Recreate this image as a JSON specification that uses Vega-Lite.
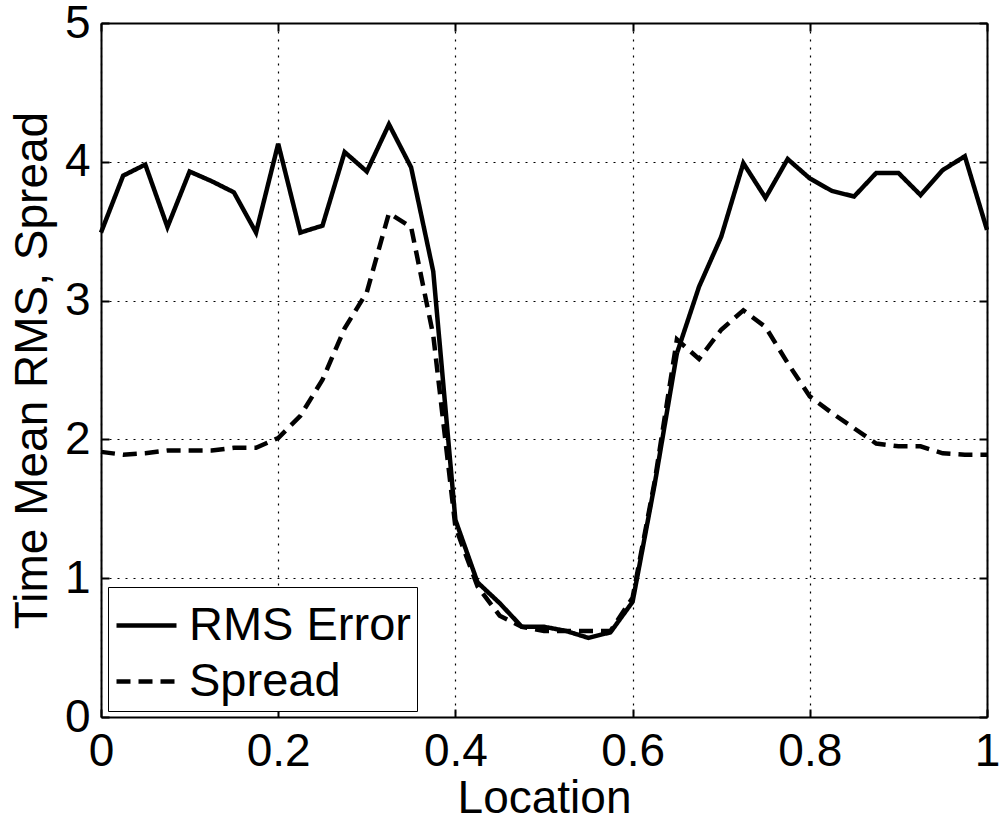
{
  "$schema": "https://vega.github.io/schema/vega-lite/v6.json",
  "width": 886,
  "height": 694,
  "autosize": "none",
  "padding": {"left": 101, "top": 23, "right": 12, "bottom": 104},
  "background": "white",
  "config": {
    "font": "Liberation Sans",
    "view": {"stroke": null},
    "axis": {
      "domainColor": "black",
      "domainWidth": 2,
      "tickColor": "black",
      "tickWidth": 2,
      "tickSize": -8,
      "labelFontSize": 46,
      "labelColor": "black",
      "labelFont": "Liberation Sans",
      "titleFontSize": 46,
      "titleFontWeight": "normal",
      "titleColor": "black",
      "titleFont": "Liberation Sans",
      "gridColor": "black",
      "gridDash": [2, 6],
      "gridWidth": 1.2,
      "gridOpacity": 1
    }
  },
  "data": {
    "values": [
      {"x": 0, "v": 3.49, "s": "RMS Error"},
      {"x": 0.025, "v": 3.90, "s": "RMS Error"},
      {"x": 0.05, "v": 3.98, "s": "RMS Error"},
      {"x": 0.075, "v": 3.53, "s": "RMS Error"},
      {"x": 0.1, "v": 3.93, "s": "RMS Error"},
      {"x": 0.125, "v": 3.86, "s": "RMS Error"},
      {"x": 0.15, "v": 3.78, "s": "RMS Error"},
      {"x": 0.175, "v": 3.49, "s": "RMS Error"},
      {"x": 0.2, "v": 4.13, "s": "RMS Error"},
      {"x": 0.225, "v": 3.49, "s": "RMS Error"},
      {"x": 0.25, "v": 3.54, "s": "RMS Error"},
      {"x": 0.275, "v": 4.07, "s": "RMS Error"},
      {"x": 0.3, "v": 3.93, "s": "RMS Error"},
      {"x": 0.325, "v": 4.27, "s": "RMS Error"},
      {"x": 0.35, "v": 3.96, "s": "RMS Error"},
      {"x": 0.375, "v": 3.21, "s": "RMS Error"},
      {"x": 0.4, "v": 1.42, "s": "RMS Error"},
      {"x": 0.425, "v": 0.97, "s": "RMS Error"},
      {"x": 0.45, "v": 0.82, "s": "RMS Error"},
      {"x": 0.475, "v": 0.65, "s": "RMS Error"},
      {"x": 0.5, "v": 0.65, "s": "RMS Error"},
      {"x": 0.525, "v": 0.62, "s": "RMS Error"},
      {"x": 0.55, "v": 0.57, "s": "RMS Error"},
      {"x": 0.575, "v": 0.61, "s": "RMS Error"},
      {"x": 0.6, "v": 0.83, "s": "RMS Error"},
      {"x": 0.625, "v": 1.68, "s": "RMS Error"},
      {"x": 0.65, "v": 2.62, "s": "RMS Error"},
      {"x": 0.675, "v": 3.10, "s": "RMS Error"},
      {"x": 0.7, "v": 3.46, "s": "RMS Error"},
      {"x": 0.725, "v": 3.99, "s": "RMS Error"},
      {"x": 0.75, "v": 3.74, "s": "RMS Error"},
      {"x": 0.775, "v": 4.02, "s": "RMS Error"},
      {"x": 0.8, "v": 3.88, "s": "RMS Error"},
      {"x": 0.825, "v": 3.79, "s": "RMS Error"},
      {"x": 0.85, "v": 3.75, "s": "RMS Error"},
      {"x": 0.875, "v": 3.92, "s": "RMS Error"},
      {"x": 0.9, "v": 3.92, "s": "RMS Error"},
      {"x": 0.925, "v": 3.76, "s": "RMS Error"},
      {"x": 0.95, "v": 3.94, "s": "RMS Error"},
      {"x": 0.975, "v": 4.04, "s": "RMS Error"},
      {"x": 1, "v": 3.51, "s": "RMS Error"},
      {"x": 0, "v": 1.91, "s": "Spread"},
      {"x": 0.025, "v": 1.89, "s": "Spread"},
      {"x": 0.05, "v": 1.90, "s": "Spread"},
      {"x": 0.075, "v": 1.92, "s": "Spread"},
      {"x": 0.1, "v": 1.92, "s": "Spread"},
      {"x": 0.125, "v": 1.92, "s": "Spread"},
      {"x": 0.15, "v": 1.94, "s": "Spread"},
      {"x": 0.175, "v": 1.94, "s": "Spread"},
      {"x": 0.2, "v": 2.01, "s": "Spread"},
      {"x": 0.225, "v": 2.17, "s": "Spread"},
      {"x": 0.25, "v": 2.43, "s": "Spread"},
      {"x": 0.275, "v": 2.80, "s": "Spread"},
      {"x": 0.3, "v": 3.06, "s": "Spread"},
      {"x": 0.325, "v": 3.63, "s": "Spread"},
      {"x": 0.35, "v": 3.53, "s": "Spread"},
      {"x": 0.375, "v": 2.75, "s": "Spread"},
      {"x": 0.4, "v": 1.37, "s": "Spread"},
      {"x": 0.425, "v": 0.94, "s": "Spread"},
      {"x": 0.45, "v": 0.73, "s": "Spread"},
      {"x": 0.475, "v": 0.65, "s": "Spread"},
      {"x": 0.5, "v": 0.62, "s": "Spread"},
      {"x": 0.525, "v": 0.62, "s": "Spread"},
      {"x": 0.55, "v": 0.62, "s": "Spread"},
      {"x": 0.575, "v": 0.62, "s": "Spread"},
      {"x": 0.6, "v": 0.86, "s": "Spread"},
      {"x": 0.625, "v": 1.70, "s": "Spread"},
      {"x": 0.65, "v": 2.72, "s": "Spread"},
      {"x": 0.675, "v": 2.58, "s": "Spread"},
      {"x": 0.7, "v": 2.79, "s": "Spread"},
      {"x": 0.725, "v": 2.93, "s": "Spread"},
      {"x": 0.75, "v": 2.81, "s": "Spread"},
      {"x": 0.775, "v": 2.55, "s": "Spread"},
      {"x": 0.8, "v": 2.31, "s": "Spread"},
      {"x": 0.825, "v": 2.19, "s": "Spread"},
      {"x": 0.85, "v": 2.08, "s": "Spread"},
      {"x": 0.875, "v": 1.97, "s": "Spread"},
      {"x": 0.9, "v": 1.95, "s": "Spread"},
      {"x": 0.925, "v": 1.95, "s": "Spread"},
      {"x": 0.95, "v": 1.90, "s": "Spread"},
      {"x": 0.975, "v": 1.89, "s": "Spread"},
      {"x": 1, "v": 1.89, "s": "Spread"}
    ]
  },
  "layer": [
    {
      "mark": {"type": "line", "color": "black", "strokeWidth": 4.5},
      "encoding": {
        "x": {
          "field": "x", "type": "quantitative",
          "scale": {"domain": [0, 1], "nice": false, "zero": false},
          "axis": {
            "orient": "bottom",
            "values": [0, 0.2, 0.4, 0.6, 0.8, 1],
            "format": "~g",
            "labelPadding": 20,
            "title": "Location",
            "titlePadding": 2,
            "grid": true,
            "labelFlush": false,
            "labelOverlap": false
          }
        },
        "y": {
          "field": "v", "type": "quantitative",
          "scale": {"domain": [0, 5], "nice": false},
          "axis": {
            "orient": "left",
            "values": [0, 1, 2, 3, 4, 5],
            "format": "~g",
            "labelPadding": 19,
            "title": "Time Mean RMS, Spread",
            "titlePadding": 8,
            "grid": true,
            "labelOverlap": false
          }
        },
        "strokeDash": {
          "field": "s", "type": "nominal",
          "scale": {"domain": ["RMS Error", "Spread"], "range": [[1, 0], [14, 8]]},
          "legend": {
            "orient": "none",
            "legendX": 7,
            "legendY": 564,
            "title": null,
            "strokeColor": "black",
            "fillColor": "white",
            "padding": 6,
            "rowPadding": 0,
            "symbolType": "stroke",
            "symbolSize": 3600,
            "symbolStrokeWidth": 4.5,
            "symbolStrokeColor": "black",
            "labelFontSize": 47,
            "labelFont": "Liberation Sans",
            "labelColor": "black",
            "labelOffset": 10,
            "labelLimit": 400
          }
        }
      }
    },
    {
      "mark": {"type": "line", "strokeOpacity": 0},
      "encoding": {
        "x": {
          "field": "x", "type": "quantitative",
          "scale": {"domain": [0, 1], "nice": false, "zero": false},
          "axis": {"orient": "top", "values": [0, 0.2, 0.4, 0.6, 0.8, 1], "labels": false, "grid": false, "title": null}
        },
        "y": {
          "field": "v", "type": "quantitative",
          "scale": {"domain": [0, 5], "nice": false},
          "axis": {"orient": "right", "values": [0, 1, 2, 3, 4, 5], "labels": false, "grid": false, "title": null}
        },
        "detail": {"field": "s"}
      }
    }
  ],
  "resolve": {"axis": {"x": "independent", "y": "independent"}}
}
